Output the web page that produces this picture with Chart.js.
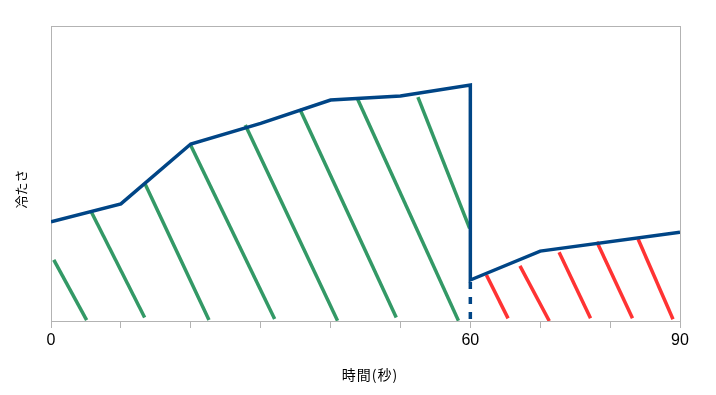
<!DOCTYPE html>
<html>
<head>
<meta charset="utf-8">
<script src="https://cdn.jsdelivr.net/npm/chart.js@4/dist/chart.umd.min.js"></script>
<style>
  html, body { margin: 0; padding: 0; background: #ffffff; }
  #wrap { width: 716px; height: 395px; }
</style>
</head>
<body>
<div id="wrap"><canvas id="c" width="716" height="395"></canvas></div>
<script>
// ---- data ----
const xTickLabels = [0, 60, 90];
const blueX = [0, 10, 20, 30, 40, 50, 60, 60, 70, 90];
const blueY = [33.6, 39.7, 60.0, 67.0, 74.9, 76.3, 80.0, 13.9, 23.7, 30.1];
const dashX = [60, 60];
const dashY = [13.9, 0];
// green hatch segments: [xTop, yTop, xBottom, yBottom]
const greenSegments = [
  [0.4, 20.7, 5.1, 0.3],
  [5.7, 37.3, 13.4, 1.2],
  [13.4, 46.8, 22.6, 0.3],
  [19.9, 60.0, 32.0, 0.7],
  [27.8, 66.4, 41.0, 0.1],
  [35.6, 71.9, 49.4, 1.2],
  [43.8, 75.6, 58.3, 0.1],
  [52.5, 75.9, 59.9, 31.4]
];
// red hatch segments: [xTop, yTop, xBottom, yBottom]
const redSegments = [
  [62.3, 15.6, 65.4, 0.9],
  [67.1, 18.7, 71.3, 0.0],
  [72.7, 23.3, 77.2, 0.9],
  [78.1, 26.9, 83.2, 0.9],
  [84.0, 27.8, 89.0, 0.6]
];
const xTitle = '時間(秒)';
const yTitle = '冷たさ';

// ---- styles ----
const BLUE = '#004586';
const GREEN = '#339966';
const RED = '#ff3333';
const GRAY = '#b3b3b3';
const LW = 3.5;

function pts(xs, ys) { return xs.map((x, i) => ({ x: x, y: ys[i] })); }
function segDataset(s, color) {
  return {
    data: [{ x: s[0], y: s[1] }, { x: s[2], y: s[3] }],
    borderColor: color, borderWidth: LW, pointRadius: 0, showLine: true,
    tension: 0, fill: false
  };
}

const datasets = [
  { data: pts(blueX, blueY), borderColor: BLUE, borderWidth: LW, pointRadius: 0,
    showLine: true, tension: 0, fill: false, borderJoinStyle: 'miter' },
  { data: pts(dashX, dashY), borderColor: BLUE, borderWidth: LW, pointRadius: 0,
    showLine: true, tension: 0, fill: false, borderDash: [7, 8], borderDashOffset: -2 }
];
greenSegments.forEach(s => datasets.push(segDataset(s, GREEN)));
redSegments.forEach(s => datasets.push(segDataset(s, RED)));

const framePlugin = {
  id: 'frame',
  beforeDatasetsDraw(chart) {
    const a = chart.chartArea, ctx = chart.ctx;
    ctx.save();
    ctx.strokeStyle = GRAY;
    ctx.lineWidth = 1;
    ctx.strokeRect(Math.round(a.left) + 0.5, Math.round(a.top) + 0.5,
                   Math.round(a.right - a.left), Math.round(a.bottom - a.top));
    ctx.restore();
  },
  afterDraw(chart) {
    const ctx = chart.ctx;
    ctx.save();
    ctx.fillStyle = '#000';
    ctx.textAlign = 'center';
    ctx.textBaseline = 'middle';
    ctx.font = '14px "Noto Sans CJK JP"';
    if ('letterSpacing' in ctx) ctx.letterSpacing = '1px';
    ctx.fillText(xTitle, 370, 375);
    if ('letterSpacing' in ctx) ctx.letterSpacing = '0px';
    ctx.translate(21, 189);
    ctx.rotate(-Math.PI / 2);
    ctx.font = '13px "Noto Sans CJK JP"';
    ctx.fillText(yTitle, 0, 0);
    ctx.restore();
  }
};

new Chart(document.getElementById('c'), {
  type: 'scatter',
  data: { datasets: datasets },
  options: {
    responsive: false,
    devicePixelRatio: 1,
    animation: false,
    layout: { padding: { top: 26, right: 36, left: 0, bottom: 0 } },
    plugins: { legend: { display: false }, tooltip: { enabled: false } },
    scales: {
      x: {
        type: 'linear', min: 0, max: 90,
        afterFit(scale) { scale.height = 74; },
        ticks: {
          stepSize: 10, autoSkip: false, maxRotation: 0, padding: 3,
          color: '#000', font: { family: '"Liberation Sans"', size: 16 },
          callback: (v) => xTickLabels.includes(v) ? String(v) : ''
        },
        grid: { display: true, drawOnChartArea: false, drawTicks: true, tickLength: 7, color: GRAY },
        border: { display: true, color: GRAY }
      },
      y: {
        type: 'linear', min: 0, max: 100,
        afterFit(scale) { scale.width = 51; },
        ticks: { display: false },
        grid: { display: false },
        border: { display: true, color: GRAY }
      }
    }
  },
  plugins: [framePlugin]
});
</script>
</body>
</html>
